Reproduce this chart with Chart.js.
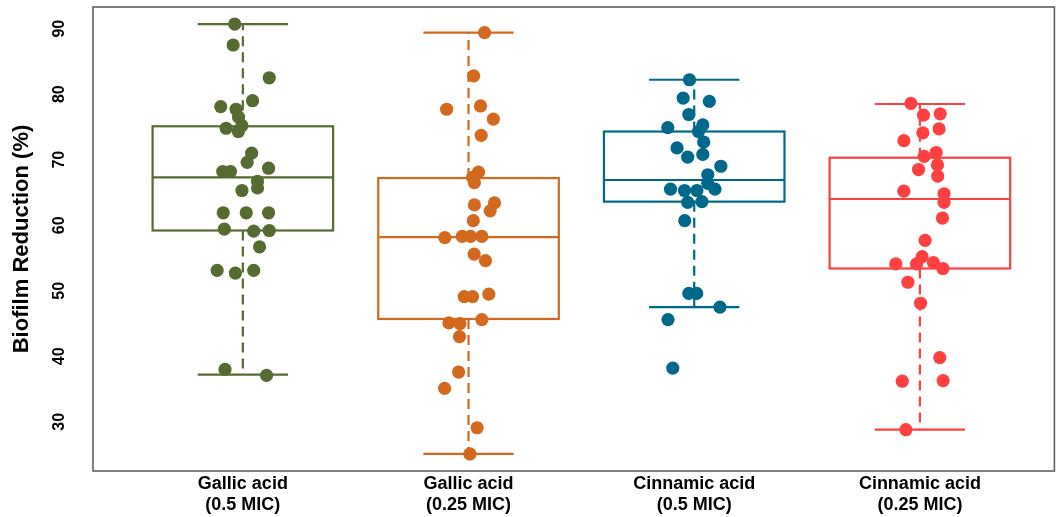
<!DOCTYPE html>
<html>
<head>
<meta charset="utf-8">
<script src="https://cdn.jsdelivr.net/npm/chart.js@4"></script>
<style>
  html, body { margin: 0; padding: 0; background: #fff; }
  #wrap { width: 1061px; height: 517px; position: relative; }
</style>
</head>
<body>
<div id="wrap"><canvas id="chart"></canvas></div>
<script>
// Treatment groups (x-axis categories)
const categories = [
  ['Gallic acid', '(0.5 MIC)'],
  ['Gallic acid', '(0.25 MIC)'],
  ['Cinnamic acid', '(0.5 MIC)'],
  ['Cinnamic acid', '(0.25 MIC)']
];
const groupColors = ['#556B2F', '#D2691E', '#00688B', '#FF4040'];

// Box summaries per group (biofilm reduction, %)
const q1 = [59.2, 45.7, 63.6, 53.4];
const median = [67.3, 58.2, 66.9, 64.0];
const q3 = [75.1, 67.2, 74.3, 70.3];
const whiskerLow = [37.2, 25.1, 47.5, 28.8];
const whiskerHigh = [90.7, 89.4, 82.2, 78.5];

// Individual replicate measurements per group
const gallic05 = [90.7, 87.5, 82.5, 78.1, 79.0, 77.7, 76.5, 75.2, 74.8, 74.3, 71.0, 69.6, 68.7, 68.2, 68.2,
  66.7, 65.7, 65.3, 61.9, 61.9, 61.9, 59.4, 59.1, 59.2, 56.7, 53.1, 52.7, 53.1, 38.0, 37.1];
const gallic025 = [89.4, 82.8, 77.7, 78.2, 76.2, 73.7, 68.1, 67.3, 66.5, 63.4, 63.1, 62.2, 60.7, 58.1, 58.3,
  58.3, 58.3, 55.6, 54.6, 49.1, 49.1, 49.5, 45.1, 45.0, 45.6, 43.0, 37.6, 35.1, 29.1, 25.1];
const cinnamic05 = [82.2, 79.4, 78.9, 76.9, 74.9, 75.3, 74.3, 72.7, 71.8, 70.4, 70.8, 69.0, 67.7, 66.4, 65.5,
  65.3, 65.3, 65.5, 63.5, 63.6, 60.7, 49.6, 49.6, 47.5, 45.6, 38.2];
const cinnamic025 = [78.6, 76.8, 77.0, 74.1, 74.7, 72.9, 71.1, 70.5, 69.2, 68.5, 67.5, 65.2, 64.8, 63.5, 61.1,
  57.7, 55.2, 54.1, 54.1, 54.3, 53.4, 51.3, 48.1, 39.8, 36.2, 36.3, 28.8];

// Horizontal jitter of each measurement (in category units)
const jitter05G = [-0.036, -0.043, 0.117, -0.098, 0.043, -0.030, -0.019, -0.004, -0.074, -0.020, 0.039, 0.019, 0.114, -0.089, -0.055,
  0.065, 0.065, -0.004, -0.087, 0.015, 0.114, -0.082, 0.048, 0.117, 0.074, -0.114, -0.033, 0.048, -0.079, 0.105];
const jitter025G = [0.071, 0.023, -0.097, 0.053, 0.110, 0.056, 0.044, 0.018, 0.026, 0.115, 0.026, 0.096, 0.021, -0.105, -0.028,
  0.009, 0.059, 0.025, 0.075, -0.019, 0.018, 0.090, -0.087, -0.038, 0.059, -0.040, -0.044, -0.106, 0.038, 0.006];
const jitter05C = [-0.021, -0.049, 0.067, -0.024, -0.117, 0.038, 0.019, 0.042, -0.076, -0.029, 0.038, 0.118, 0.060, 0.060, -0.105,
  -0.043, 0.012, 0.092, -0.029, 0.034, -0.042, -0.024, 0.011, 0.114, -0.116, -0.095];
const jitter025C = [-0.040, 0.016, 0.090, 0.013, 0.085, -0.071, 0.072, 0.019, 0.078, -0.006, 0.079, -0.071, 0.107, 0.107, 0.100,
  0.023, 0.010, -0.107, -0.015, 0.060, 0.102, -0.053, 0.003, 0.088, -0.078, 0.103, -0.062];

// Y-axis range and tick labels
const yMin = 22.5, yMax = 93.3;
const yTicks = [30, 40, 50, 60, 70, 80, 90];

const groupValues = [gallic05, gallic025, cinnamic05, cinnamic025];
const groupJitter = [jitter05G, jitter025G, jitter05C, jitter025C];

const FONT = "'Liberation Sans', Arial, Helvetica, sans-serif";
const BOX_HALF = 0.4;
const CAP_HALF = 0.2;

const datasets = groupValues.map((vals, i) => ({
  label: categories[i].join(' '),
  data: vals.map((v, k) => ({ x: i + 1 + groupJitter[i][k], y: v })),
  backgroundColor: groupColors[i],
  borderColor: groupColors[i],
  pointRadius: 6.6,
  pointBorderWidth: 0,
  pointHoverRadius: 6.6
}));

// Panel frame, boxes and whiskers, drawn beneath the points
const boxPlugin = {
  id: 'boxes',
  beforeDatasetsDraw(chart) {
    const { ctx, chartArea: a, scales: { x, y } } = chart;
    ctx.save();
    ctx.strokeStyle = '#5f5f5f';
    ctx.lineWidth = 1.6;
    ctx.strokeRect(a.left, a.top, a.right - a.left, a.bottom - a.top);

    categories.forEach((c, i) => {
      const pos = i + 1;
      const cx = x.getPixelForValue(pos);
      const l = x.getPixelForValue(pos - BOX_HALF);
      const r = x.getPixelForValue(pos + BOX_HALF);
      const cl = x.getPixelForValue(pos - CAP_HALF);
      const cr = x.getPixelForValue(pos + CAP_HALF);
      const yq1 = y.getPixelForValue(q1[i]);
      const yq3 = y.getPixelForValue(q3[i]);
      const ymed = y.getPixelForValue(median[i]);
      const ylo = y.getPixelForValue(whiskerLow[i]);
      const yhi = y.getPixelForValue(whiskerHigh[i]);
      ctx.strokeStyle = groupColors[i];
      ctx.lineWidth = 2.2;
      ctx.lineCap = 'butt';

      // dashed whiskers
      ctx.setLineDash([10, 6]);
      ctx.beginPath();
      ctx.moveTo(cx, yq3); ctx.lineTo(cx, yhi);
      ctx.moveTo(cx, yq1); ctx.lineTo(cx, ylo);
      ctx.stroke();
      ctx.setLineDash([]);

      // whisker caps
      ctx.beginPath();
      ctx.moveTo(cl, yhi); ctx.lineTo(cr, yhi);
      ctx.moveTo(cl, ylo); ctx.lineTo(cr, ylo);
      ctx.stroke();

      // box and median
      ctx.strokeRect(l, yq3, r - l, yq1 - yq3);
      ctx.beginPath();
      ctx.moveTo(l, ymed); ctx.lineTo(r, ymed);
      ctx.stroke();
    });
    ctx.restore();
  }
};

// Vertical y tick labels (rotated, reading upward)
const yLabelPlugin = {
  id: 'yLabels',
  afterDraw(chart) {
    const { ctx, scales: { y } } = chart;
    ctx.save();
    ctx.fillStyle = '#000';
    ctx.font = `bold 16px ${FONT}`;
    ctx.textAlign = 'center';
    ctx.textBaseline = 'middle';
    y.ticks.forEach(t => {
      const py = y.getPixelForValue(t.value);
      ctx.save();
      ctx.translate(60, py);
      ctx.rotate(-Math.PI / 2);
      ctx.fillText(String(t.value), 0, 0);
      ctx.restore();
    });
    ctx.restore();
  }
};

new Chart(document.getElementById('chart'), {
  type: 'scatter',
  data: { datasets },
  plugins: [boxPlugin, yLabelPlugin],
  options: {
    responsive: true,
    maintainAspectRatio: false,
    animation: false,
    events: [],
    layout: { padding: { top: 7, right: 1, bottom: 0, left: 0 } },
    plugins: { legend: { display: false }, tooltip: { enabled: false } },
    scales: {
      x: {
        type: 'linear',
        min: 0.336,
        max: 4.596,
        grid: { display: false, drawTicks: false },
        border: { display: false },
        afterBuildTicks: s => { s.ticks = categories.map((c, i) => ({ value: i + 1 })); },
        afterFit: s => { s.height = 46; },
        ticks: {
          autoSkip: false,
          maxRotation: 0,
          minRotation: 0,
          padding: 2,
          color: '#000',
          font: { family: FONT, size: 18, weight: 'bold', lineHeight: 1.2 },
          callback: v => categories[Math.round(v) - 1]
        }
      },
      y: {
        min: yMin,
        max: yMax,
        grid: { display: false, drawTicks: false },
        border: { display: false },
        afterBuildTicks: s => { s.ticks = yTicks.map(v => ({ value: v })); },
        afterFit: s => { s.width = 93; },
        ticks: { display: false },
        title: {
          display: true,
          text: 'Biofilm Reduction (%)',
          color: '#000',
          font: { family: FONT, size: 22, weight: 'bold', lineHeight: 1.2 },
          padding: { top: 9, bottom: 0 }
        }
      }
    }
  }
});
</script>
</body>
</html>
